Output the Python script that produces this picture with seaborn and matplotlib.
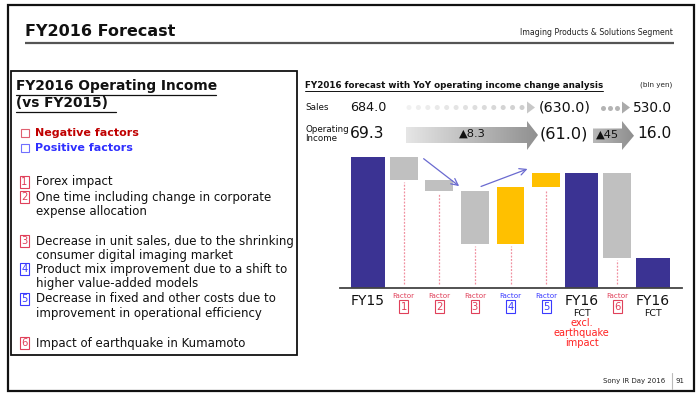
import numpy as np
import pandas as pd
import matplotlib
matplotlib.use("Agg")
import matplotlib.pyplot as plt
import seaborn as sns
from matplotlib.patches import Rectangle, Polygon
from matplotlib.transforms import blended_transform_factory

# ---------------- data ----------------
categories = ["FY15", "Factor 1", "Factor 2", "Factor 3", "Factor 4",
              "Factor 5", "FY16 FCT excl.", "Factor 6", "FY16 FCT"]
kinds = ["total", "neg", "neg", "neg", "pos", "pos", "total", "neg", "total"]
values = [69.3, -12.0, -6.0, -28.0, 30.0, 7.7, 61.0, -45.0, 16.0]
factor_nums = ["", "1", "2", "3", "4", "5", "", "6", ""]

sales_values = ["684.0", "(630.0)", "530.0"]
oi_values = ["69.3", "(61.0)", "16.0"]
oi_changes = ["\u25b28.3", "\u25b245"]

box_title = ["FY2016 Operating Income", "(vs FY2015)"]
legend_labels = ["Negative factors", "Positive factors"]
factor_text = [
    ("1", ["Forex impact"]),
    ("2", ["One time including change in corporate", "expense allocation"]),
    ("3", ["Decrease in unit sales, due to the shrinking",
           "consumer digital imaging market"]),
    ("4", ["Product mix improvement due to a shift to",
           "higher value-added models"]),
    ("5", ["Decrease in fixed and other costs due to",
           "improvement in operational efficiency"]),
    ("6", ["Impact of earthquake in Kumamoto"]),
]
factor_sign = {"1": "neg", "2": "neg", "3": "neg", "4": "pos", "5": "pos", "6": "neg"}

# ---------------- derived waterfall geometry ----------------
heights, bottoms = [], []
level = 0.0
for k, v in zip(kinds, values):
    if k == "total":
        bottoms.append(0.0)
        heights.append(v)
        level = v
    else:
        new = level + v
        bottoms.append(min(level, new))
        heights.append(abs(v))
        level = new
df = pd.DataFrame({"cat": categories, "kind": kinds,
                   "height": heights, "bottom": bottoms})

NAVY = "#3b3393"
GRAY = "#c0c0c0"
ORANGE = "#ffc000"
RED = "#e0405a"
BLUE = "#3a3aff"

sns.set_theme(style="white")
plt.rcParams["font.family"] = ["DejaVu Sans"]

fig = plt.figure(figsize=(7, 3.98), dpi=100)
fig.patch.set_facecolor("white")

# overlay axes in pixel coordinates
ov = fig.add_axes([0, 0, 1, 1])
ov.set_xlim(0, 700)
ov.set_ylim(398, 0)
ov.axis("off")

# slide frame
ov.add_patch(Rectangle((8, 5), 686, 386, fill=False, ec="#111111", lw=1.6))
# header
ov.text(25, 31, "FY2016 Forecast", fontsize=11.5, fontweight="bold",
        color="#111111", va="center", ha="left")
ov.text(673, 32.5, "Imaging Products & Solutions Segment", fontsize=5.6,
        color="#222222", va="center", ha="right")
ov.plot([25, 674], [43, 43], color="#555555", lw=1.6, solid_capstyle="butt")

# footer
ov.text(665, 381, "Sony IR Day 2016", fontsize=5, color="#222222",
        va="center", ha="right")
ov.plot([672, 672], [373, 389], color="#bbbbbb", lw=0.8)
ov.text(680, 381, "91", fontsize=5, color="#222222", va="center", ha="center")

# ---------------- left box ----------------
ov.add_patch(Rectangle((11, 71), 286, 284, fill=False, ec="#111111", lw=1.3))
ov.text(16, 86, box_title[0], fontsize=9.9, fontweight="bold",
        va="center", ha="left", color="#111111")
ov.text(16, 103, box_title[1], fontsize=9.9, fontweight="bold",
        va="center", ha="left", color="#111111")
ov.plot([16, 216], [94.5, 94.5], color="#111111", lw=0.9)
ov.plot([16, 116], [111.5, 111.5], color="#111111", lw=0.9)

for lab, y, col, sq in [(legend_labels[0], 133, "#c00000", "#e06070"),
                        (legend_labels[1], 148, "#2f2fff", "#7070ff")]:
    ov.add_patch(Rectangle((21, y - 4), 8, 8, fill=False, ec=sq, lw=0.8))
    ov.text(35, y, lab, fontsize=8.0, fontweight="bold", color=col,
            va="center", ha="left")

item_y = [182, 197, 241, 269, 299, 343]
for (num, lines), y in zip(factor_text, item_y):
    col = RED if factor_sign[num] == "neg" else BLUE
    ov.text(24.5, y, num, fontsize=7.2, color=col, va="center", ha="center",
            bbox=dict(boxstyle="square,pad=0.12", fc="white", ec=col, lw=0.8))
    for j, line in enumerate(lines):
        ov.text(36, y + j * 14.6, line, fontsize=8.45, color="#111111",
                va="center", ha="left")

# ---------------- chart header rows ----------------
ov.text(305, 85, "FY2016 forecast with YoY operating income change analysis",
        fontsize=6.3, fontweight="bold", color="#111111", va="center", ha="left")
ov.plot([305, 603], [91, 91], color="#111111", lw=0.7)
ov.text(672, 85, "(bln yen)", fontsize=5.2, color="#222222", va="center", ha="right")

ov.text(305, 107.5, "Sales", fontsize=6.3, color="#111111", va="center", ha="left")
ov.text(305, 134, "Operating\nIncome", fontsize=6.3, color="#111111",
        va="center", ha="left", linespacing=1.0)

ov.text(350, 107.5, sales_values[0], fontsize=9.2, color="#111111", va="center", ha="left")
ov.text(565, 107.5, sales_values[1], fontsize=10.3, color="#111111", va="center", ha="center")
ov.text(672, 107.5, sales_values[2], fontsize=9.8, color="#111111", va="center", ha="right")

# dotted sales arrows
dots_x = np.linspace(409, 522, 13)
dot_cols = plt.cm.Greys(np.linspace(0.12, 0.30, 13))
ov.scatter(dots_x, np.full(13, 107.5), s=13, c=dot_cols, linewidths=0, zorder=3)
ov.add_patch(Polygon([(527, 101.5), (535, 107.5), (527, 113.5)], closed=True,
                     fc="#c8c8c8", ec="none"))
ov.scatter([603, 610, 617], [107.5] * 3, s=13, c="#b4b4b4", linewidths=0, zorder=3)
ov.add_patch(Polygon([(622, 101.5), (630, 107.5), (622, 113.5)], closed=True,
                     fc="#aaaaaa", ec="none"))

ov.text(350, 134, oi_values[0], fontsize=11.2, color="#111111", va="center", ha="left")
ov.text(564, 134, oi_values[1], fontsize=11.6, color="#111111", va="center", ha="center")
ov.text(672, 134, oi_values[2], fontsize=11.2, color="#111111", va="center", ha="right")


def grad_arrow(x0, x1, xh, y0, y1, yh0, yh1, c0, c1):
    ym = (y0 + y1) / 2
    pts = [(x0, y0), (xh, y0), (xh, yh0), (x1, ym), (xh, yh1), (xh, y1), (x0, y1)]
    poly = Polygon(pts, closed=True, fc="none", ec="none")
    ov.add_patch(poly)
    grad = np.linspace(0, 1, 256).reshape(1, -1)
    cmap = matplotlib.colors.LinearSegmentedColormap.from_list("g", [c0, c1])
    im = ov.imshow(grad, extent=(x0, x1, yh1, yh0), cmap=cmap, aspect="auto",
                   zorder=2, interpolation="bilinear")
    im.set_clip_path(poly)


grad_arrow(406, 538, 527, 127, 143, 121, 150, "#e6e6e6", "#909090")
grad_arrow(593, 634, 622, 128.5, 143, 121, 150, "#b8b8b8", "#8e8e8e")
ov.set_xlim(0, 700)
ov.set_ylim(398, 0)
ov.text(472, 134, oi_changes[0], fontsize=8.2, color="#111111", va="center",
        ha="center", zorder=4)
ov.text(608, 135, oi_changes[1], fontsize=8.2, color="#111111", va="center",
        ha="center", zorder=4)

# ---------------- waterfall ----------------
ax = fig.add_axes([340 / 700, 1 - 288 / 398, 342 / 700, 138 / 398])
ax.patch.set_alpha(0)
for kind, color, width in [("total", NAVY, 0.93), ("neg", GRAY, 0.78),
                           ("pos", ORANGE, 0.78)]:
    sub = df[df["kind"] == kind]
    sns.barplot(data=sub, x="cat", y="height", order=categories, color=color,
                width=width, bottom=sub["bottom"].to_numpy(), errorbar=None,
                saturation=1, linewidth=0, ax=ax)

ax.set_xlim(-0.786, 8.814)
ax.set_ylim(0, 73.0)
ax.set_xticks([])
ax.set_yticks([])
ax.set_xlabel("")
ax.set_ylabel("")
for s in ["top", "right", "left"]:
    ax.spines[s].set_visible(False)
ax.spines["bottom"].set_color("#444444")
ax.spines["bottom"].set_linewidth(1.3)

# dashed guide lines under factor bars
for i, (k, b) in enumerate(zip(kinds, bottoms)):
    if k != "total":
        ax.vlines(i, 2.0, b - 1.2, colors="#f090a0", linestyles=(0, (1.5, 1.2)),
                  lw=0.9)

# flow arrows
ax.annotate("", xy=(2.62, 53.0), xytext=(1.5, 69.3),
            arrowprops=dict(arrowstyle="->", color="#6a6ad0", lw=0.9))
ax.annotate("", xy=(4.55, 63.5), xytext=(3.1, 53.2),
            arrowprops=dict(arrowstyle="->", color="#6a6ad0", lw=0.9))

# category labels
tr = blended_transform_factory(ax.transData, ov.transData)
for i, (cat, k, num) in enumerate(zip(categories, kinds, factor_nums)):
    if k == "total":
        ov.text(i, 301, cat.split()[0], fontsize=10, color="#111111",
                ha="center", va="center", transform=tr)
        if "FCT" in cat:
            ov.text(i, 313, "FCT", fontsize=6.8, color="#111111",
                    ha="center", va="center", transform=tr)
        if "excl" in cat:
            ov.text(i, 333, "excl.\nearthquake\nimpact", fontsize=7,
                    color="#ff2020", ha="center", va="center",
                    linespacing=1.0, transform=tr)
    else:
        col = RED if k == "neg" else BLUE
        ov.text(i, 296, "Factor", fontsize=5.2, color=col, ha="center",
                va="center", transform=tr)
        ov.text(i, 306.5, num, fontsize=7.2, color=col, ha="center",
                va="center", transform=tr,
                bbox=dict(boxstyle="square,pad=0.12", fc="white", ec=col, lw=0.8))

fig.savefig("out.png", dpi=100, facecolor="white")
